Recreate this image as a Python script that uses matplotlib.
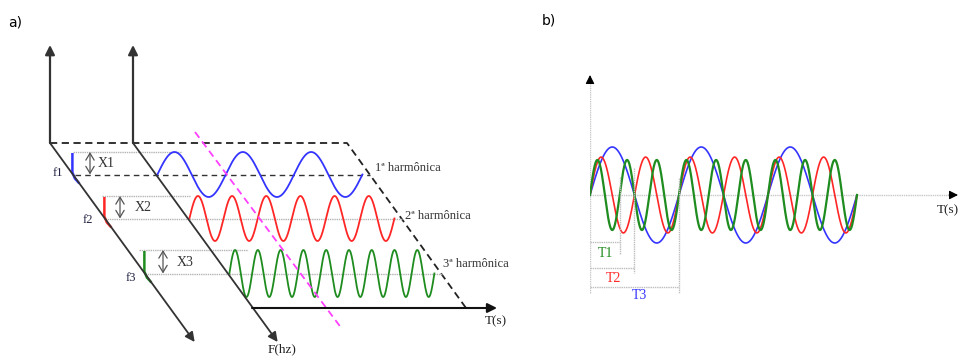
import numpy as np
import matplotlib
matplotlib.use("Agg")
import matplotlib.pyplot as plt

# ---------------- data ----------------
harmonic_labels = ['1ª harmônica', '2ª harmônica', '3ª harmônica']
freq_labels = ['f1', 'f2', 'f3']
amp_labels = ['X1', 'X2', 'X3']
harmonic_cycles = [3, 6, 9]          # cycles drawn in panel a
harmonic_colors = ['#3434ff', '#ff2626', '#1e8c1e']

b_periods = [1.0, 0.5, 1.0 / 3.0]     # blue, red, green (in units of T3)
b_amplitudes = [1.0, 0.79, 0.73]
b_colors = ['#3434ff', '#ff2626', '#1e8c1e']
b_duration = 3.0
period_labels = ['T1', 'T2', 'T3']    # green, red, blue
period_values = [1.0 / 3.0, 0.5, 1.0]
period_colors = ['#1e8c1e', '#ff2626', '#3434ff']

serif = ['Liberation Serif', 'DejaVu Serif']

fig = plt.figure(figsize=(9.62, 3.56), dpi=100)
ax = fig.add_axes([0, 0, 1, 1])
ax.set_xlim(0, 962)
ax.set_ylim(356, 0)
ax.axis('off')

# ---------------- panel a (layout in pixel units) ----------------
axc = '#333333'
ox1, ox2, oy = 50, 133, 143
top = 45
slope = 0.727
bottom_y = 342

def arrow(p0, p1, lw=1.3, color=axc):
    ax.annotate('', xy=p1, xytext=p0,
                arrowprops=dict(arrowstyle='-|>', color=color, lw=lw,
                                mutation_scale=14, shrinkA=0, shrinkB=0))

arrow((ox1, oy), (ox1, top), lw=1.6)
arrow((ox2, oy), (ox2, top), lw=1.6)
arrow((ox1, oy), (ox1 + slope * (bottom_y - oy), bottom_y))
arrow((ox2, oy), (ox2 + slope * (bottom_y - oy), bottom_y))
arrow((252, 308), (497, 308), lw=1.5, color='#111111')

# outer dashed frame
ax.plot([ox1, 347, 466], [oy, oy, 308], color='#222222', lw=1.3,
        linestyle=(0, (4, 2.5)))

base_y = [174.5, 218.5, 273.5]
amp_px = [22.5, 22.5, 23.5]
wave_len = 205
label_x = [375, 405, 443]
label_y = [168, 216, 264]
base_end = [370, 402, 442]
top_start = [73, 102, 139]
top_end = [182, 190, 248]
arrow_x = [90, 120, 163]
flab = [(58, 173), (88, 220), (131, 278)]
xlab_x = [98, 135, 177]

for i in range(3):
    by = base_y[i]
    A = amp_px[i]
    xs_left = ox1 + slope * (by - oy)
    x0 = ox2 + slope * (by - oy) + 1.5
    # baseline
    if i == 0:
        ax.plot([xs_left + 2, base_end[i]], [by, by], color='#333333', lw=1.0,
                linestyle=(0, (4, 3)))
    else:
        ax.plot([xs_left, base_end[i]], [by, by], color='#b5b5b5', lw=1.0,
                linestyle=(0, (1, 0.6)))
    # amplitude top line
    ax.plot([top_start[i], top_end[i]], [by - A, by - A], color='#b5b5b5',
            lw=1.0, linestyle=(0, (1, 0.6)))
    # wave
    s = np.linspace(0, wave_len, 800)
    ax.plot(x0 + s, by - A * np.sin(2 * np.pi * harmonic_cycles[i] * s / wave_len),
            color=harmonic_colors[i], lw=1.3)
    # spectral line at f_i
    fx = xs_left - 0.5
    ax.plot([fx, fx, fx + 2.5, fx + 7], [by - A + 1, by - 2, by + 4, by + 9],
            color=harmonic_colors[i], lw=1.8, solid_capstyle='butt')
    # double arrow
    ax.annotate('', xy=(arrow_x[i], by - A), xytext=(arrow_x[i], by),
                arrowprops=dict(arrowstyle='<->,head_length=0.5,head_width=0.3',
                                color='#555555', lw=0.9, shrinkA=0, shrinkB=0))
    ax.text(xlab_x[i], by - A / 2 + 0.5, amp_labels[i], family=serif, fontsize=10,
            color='#333333', ha='left', va='center')
    ax.text(flab[i][0], flab[i][1], freq_labels[i], family=serif, fontsize=9,
            color='#222244', ha='center', va='center')
    ax.text(label_x[i], label_y[i], harmonic_labels[i], family=serif, fontsize=9,
            color='#333333', ha='left', va='center')

# magenta dashed line
ax.plot([195, 342], [132, 329], color='#ff40ff', lw=1.3, linestyle=(0, (4, 2.5)))

ax.text(282, 349, 'F(hz)', family=serif, fontsize=9.5, color='#222222',
        ha='center', va='center')
ax.text(485, 321, 'T(s)', family=serif, fontsize=9.5, color='#222222',
        ha='left', va='center')

ax.text(8, 22, 'a)', fontsize=10, family='DejaVu Sans', ha='left', va='center')
ax.text(542, 20, 'b)', fontsize=10, family='DejaVu Sans', ha='left', va='center')

# ---------------- panel b ----------------
px_x0, px_x1, px_y0, px_y1 = 590, 958, 60, 310
per_px = 89.0
amp_unit = 48.0
zero_y = 195
axb = fig.add_axes([px_x0 / 962, (356 - px_y1) / 356,
                    (px_x1 - px_x0) / 962, (px_y1 - px_y0) / 356])
axb.set_xlim(0, (px_x1 - px_x0) / per_px)
axb.set_ylim(-(px_y1 - zero_y) / amp_unit, (zero_y - px_y0) / amp_unit)
axb.axis('off')
axb.patch.set_alpha(0)

xmax = (px_x1 - px_x0) / per_px
ytop = (zero_y - 75) / amp_unit
axb.plot([0, xmax - 0.05], [0, 0], color='#c8c8c8', lw=1.0, linestyle=(0, (1, 0.6)))
axb.plot([0, 0], [-2.04, ytop - 0.1], color='#c8c8c8', lw=1.0, linestyle=(0, (1, 0.6)))
axb.annotate('', xy=(0, ytop), xytext=(0, ytop - 0.15),
             arrowprops=dict(arrowstyle='-|>', color='black', lw=0.8,
                             mutation_scale=13, shrinkA=0, shrinkB=0))
axb.annotate('', xy=(xmax, 0), xytext=(xmax - 0.1, 0),
             arrowprops=dict(arrowstyle='-|>', color='black', lw=0.8,
                             mutation_scale=13, shrinkA=0, shrinkB=0))

t = np.linspace(0, b_duration, 1500)
lws = [1.2, 1.2, 1.6]
for P, A, c, lw in zip(b_periods, b_amplitudes, b_colors, lws):
    axb.plot(t, A * np.sin(2 * np.pi * t / P), color=c, lw=lw)

bracket_y = [-0.98, -1.52, -1.92]
vert_top = [0.375, 0.56, 0.35]
vert_bot = [-1.23, -1.63, -2.05]
lab_pos = [(0.17, -1.21), (0.26, -1.73), (0.56, -2.1)]
for i in range(3):
    T = period_values[i]
    axb.plot([0, T], [bracket_y[i], bracket_y[i]], color='#bdbdbd', lw=1.0,
             linestyle=(0, (1, 0.6)))
    axb.plot([T, T], [vert_top[i], vert_bot[i]], color='#bdbdbd', lw=1.0,
             linestyle=(0, (1, 0.6)))
    axb.text(lab_pos[i][0], lab_pos[i][1], period_labels[i], family=serif,
             fontsize=10, color=period_colors[i], ha='center', va='center')

axb.text((937 - px_x0) / per_px, -(210 - zero_y) / amp_unit, 'T(s)', family=serif,
         fontsize=9.5, color='#222222', ha='left', va='center', clip_on=False)

fig.savefig('out.png', dpi=100)
